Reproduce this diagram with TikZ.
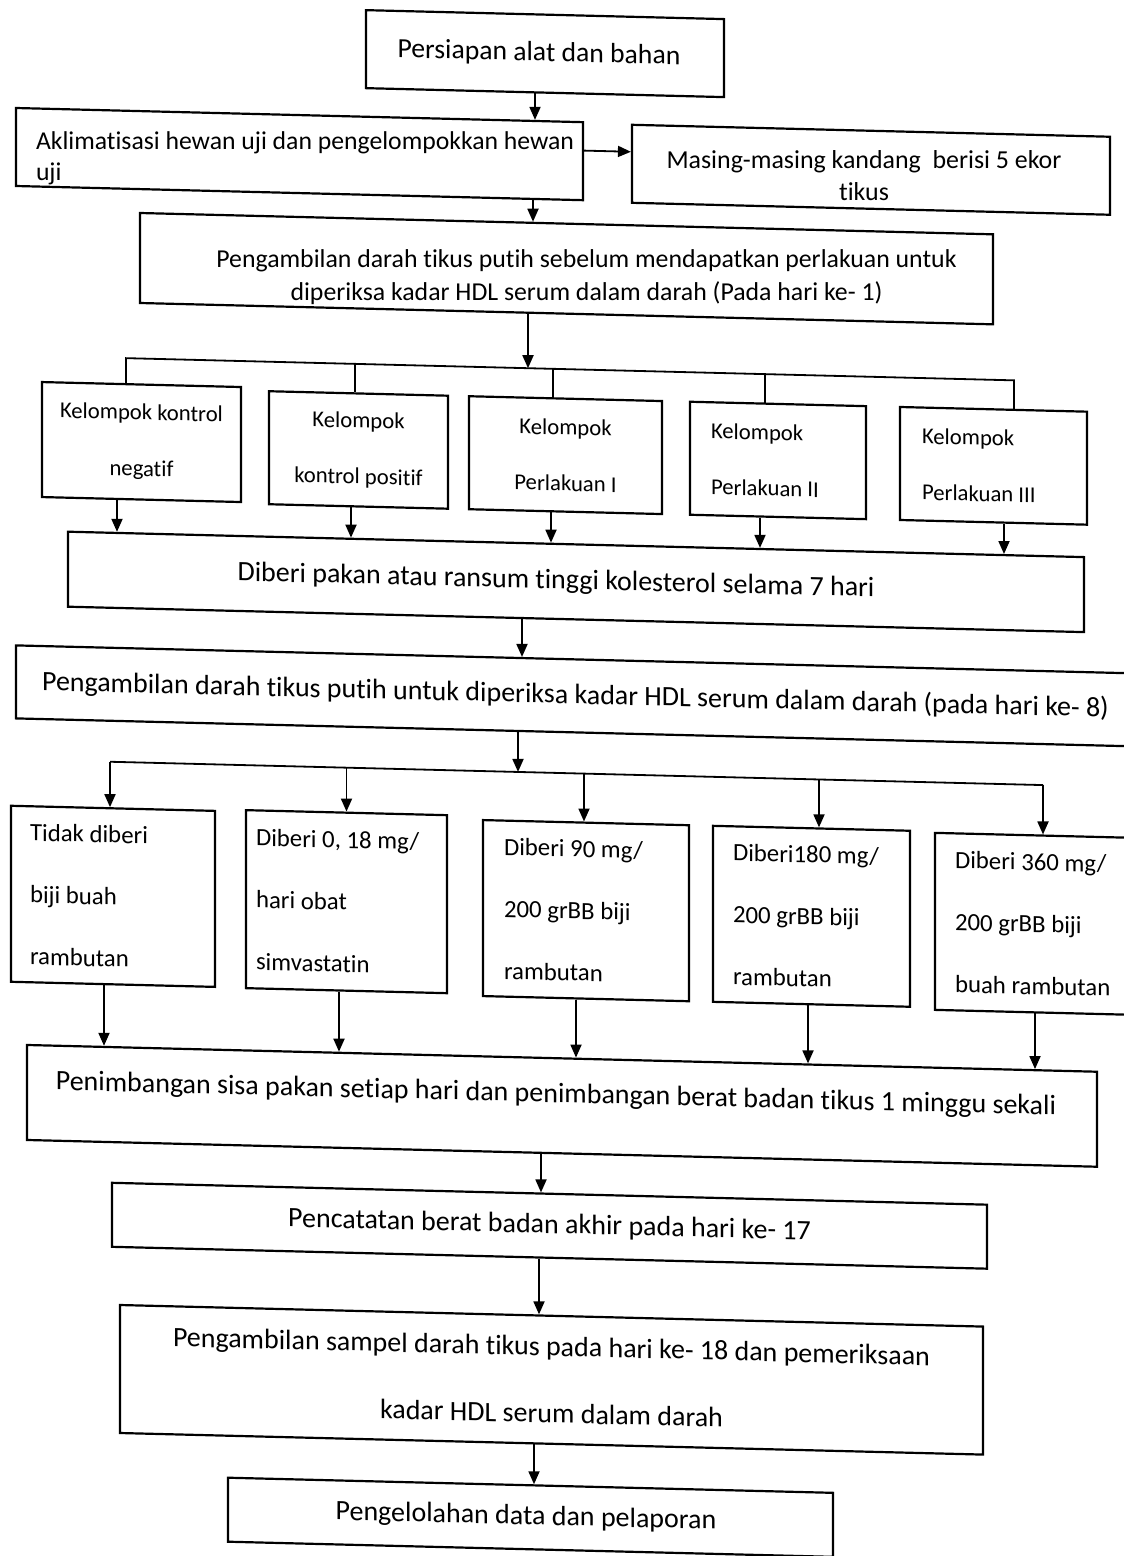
\documentclass[tikz,border=0pt]{standalone}
\usepackage{fontspec}
\setmainfont[Ligatures={TeX,NoCommon,NoContextual},RawFeature={-clig}]{Carlito}
\usetikzlibrary{arrows.meta}
\begin{document}
\begin{tikzpicture}[x=1pt,y=-1pt,
  every node/.style={execute at begin node={\spaceskip=0pt\xspaceskip=0pt\relax}},
  box/.style={draw=black, line width=2.2pt, inner sep=0pt, align=center, rectangle, transform shape},
  txt/.style={inner sep=0pt, align=center},
  ftop/.style={font=\fontsize{27.7}{30}\selectfont},
  fbig/.style={font=\fontsize{28}{30}\selectfont},
  fgrp/.style={font=\fontsize{22.7}{56}\selectfont},
  ftrt/.style={font=\fontsize{24.8}{62}\selectfont},
  ln/.style={line width=1.8pt},
  arr/.style={line width=1.8pt, -{Triangle[length=13pt,width=11pt]}},
]
\useasboundingbox (0,0) rectangle (1124,1556);
\fill[white] (0,0) rectangle (1124,1556);
\begin{scope}[yslant=-0.025]
% top part
\node[box, ftop, minimum width=358pt, minimum height=78pt] (b1) at (545,40) {\hspace*{-12pt}Persiapan alat dan bahan};
\node[box, minimum width=567pt, minimum height=78pt] (b2) at (299.5,146.6) {};
\node[txt, font=\fontsize{25.7}{31.5}\selectfont, align=left, text width=527pt] (t2) at ([yshift=-4pt]b2.center)
  {\mbox{Aklimatisasi hewan uji dan pengelompokkan hewan}\\uji};
\node[box, minimum width=478pt, minimum height=78pt] (b3) at (871,148) {};
\node[txt, font=\fontsize{25.9}{32}\selectfont] (t3) at ([xshift=-7pt,yshift=-6pt]b3.center)
  {Masing-masing kandang\ \ berisi 5 ekor\\tikus};
\node[box, minimum width=853pt, minimum height=90pt] (b4) at (566.5,254.5) {};
\node[txt, font=\fontsize{25.8}{33}\selectfont] (t4) at ([xshift=20pt,yshift=-8pt]b4.center)
  {Pengambilan darah tikus putih sebelum mendapatkan perlakuan untuk\\diperiksa kadar HDL serum dalam darah (Pada hari ke- 1)};
% group boxes
\node[box, fgrp, minimum width=199pt, minimum height=115pt] (b5a) at (141.5,438.5) {Kelompok kontrol\\negatif};
\node[box, fgrp, minimum width=179pt, minimum height=113pt] (b5b) at (358.5,441) {Kelompok\\kontrol positif};
\node[box, fgrp, minimum width=193pt, minimum height=113pt] (b5c) at (565.5,441) {Kelompok\\Perlakuan I};
\node[box, fgrp, align=left, text width=134pt, minimum width=176pt, minimum height=113pt] (b5d) at (778,441) {Kelompok\\Perlakuan II};
\node[box, fgrp, align=left, text width=143pt, minimum width=187pt, minimum height=113pt] (b5e) at (993.5,441) {Kelompok\\Perlakuan III};
\node[box, fbig, minimum width=1016pt, minimum height=75pt] (b6) at (576,567.5)
  {\hspace*{-40pt}Diberi pakan atau ransum tinggi kolesterol selama 7 hari};
\node[box, fbig, minimum width=1119pt, minimum height=73pt] (b7) at (575.5,681.5)
  {Pengambilan darah tikus putih untuk diperiksa kadar HDL serum dalam darah (pada hari ke- 8)};
% treatment boxes
\node[box, ftrt, align=left, text width=166pt, minimum width=204pt, minimum height=176pt] (b8a) at (113,893.5)
  {Tidak diberi\\biji buah\\rambutan};
\node[box, ftrt, align=left, text width=181pt, minimum width=201pt, minimum height=178pt] (b8b) at (346.5,893)
  {Diberi 0, 18 mg/\\hari obat\\simvastatin};
\node[box, ftrt, align=left, text width=164pt, minimum width=206pt, minimum height=176pt] (b8c) at (586,896)
  {Diberi 90 mg/\\200 grBB biji\\rambutan};
\node[box, ftrt, align=left, text width=157pt, minimum width=197pt, minimum height=176pt] (b8d) at (811.5,896)
  {Diberi180 mg/\\200 grBB biji\\rambutan};
\node[box, ftrt, align=left, text width=160pt, minimum width=200pt, minimum height=177pt] (b8e) at (1035,898)
  {Diberi 360 mg/\\200 grBB biji\\buah rambutan};
% bottom part
\node[box, fbig, text depth=26pt, minimum width=1070pt, minimum height=95pt] (b9) at (562,1091.8)
  {\hspace*{-12pt}Penimbangan sisa pakan setiap hari dan penimbangan berat badan tikus 1 minggu sekali};
\node[box, fbig, minimum width=875pt, minimum height=64pt] (b10) at (549.5,1212)
  {Pencatatan berat badan akhir pada hari ke- 17};
\node[box, font=\fontsize{28}{67}\selectfont, minimum width=863pt, minimum height=128pt] (b11) at (551.5,1366)
  {Pengambilan sampel darah tikus pada hari ke- 18 dan pemeriksaan\\kadar HDL serum dalam darah};
\node[box, fbig, minimum width=605pt, minimum height=64pt] (b12) at (530.5,1504)
  {\hspace*{-9pt}Pengelolahan data dan pelaporan};

% connector coordinates
\coordinate (h1a) at (126,355);
\coordinate (h1b) at (355,355);
\coordinate (h1m) at (528,355);
\coordinate (h1c) at (553,355);
\coordinate (h1d) at (765,355);
\coordinate (h1e) at (1014,355);
\coordinate (h2a) at (110,759);
\coordinate (h2b) at (346.5,759);
\coordinate (h2m) at (518,759);
\coordinate (h2c) at (584,759);
\coordinate (h2d) at (819,759);
\coordinate (h2e) at (1043,759);

% connectors
\draw[arr] ([xshift=-10pt]b1.south) -- ([xshift=235.5pt]b2.north);
\draw[arr] ([yshift=10.6pt]b2.east) -- ([yshift=12pt]b3.west);
\draw[arr] ([xshift=233.5pt]b2.south) -- ([xshift=-33.5pt]b4.north);
\draw[arr] ([xshift=-38.5pt]b4.south) -- (h1m);
\draw[ln] ([xshift=-15.5pt]b5a.north) -- (h1a) -- (h1e) -- ([xshift=20.5pt]b5e.north);
\draw[ln] (h1b) -- ([xshift=-3.5pt]b5b.north);
\draw[ln] (h1c) -- ([xshift=-12.5pt]b5c.north);
\draw[ln] (h1d) -- ([xshift=-13pt]b5d.north);

\draw[arr] ([xshift=-24.5pt]b5a.south) -- ([xshift=-459pt]b6.north);
\draw[arr] ([xshift=-7.5pt]b5b.south) -- ([xshift=-225pt]b6.north);
\draw[arr] ([xshift=-14.5pt]b5c.south) -- ([xshift=-25pt]b6.north);
\draw[arr] ([xshift=-18pt]b5d.south) -- ([xshift=184pt]b6.north);
\draw[arr] ([xshift=10.5pt]b5e.south) -- ([xshift=428pt]b6.north);

\draw[arr] ([xshift=-54pt]b6.south) -- ([xshift=-53.5pt]b7.north);
\draw[arr] ([xshift=-57.5pt]b7.south) -- (h2m);
\draw[ln] (h2a) -- (h2e);
\draw[arr] (h2a) -- ([xshift=-3pt]b8a.north);
\draw[arr] (h2b) -- (b8b.north);
\draw[arr] (h2c) -- ([xshift=-2pt]b8c.north);
\draw[arr] (h2d) -- ([xshift=7.5pt]b8d.north);
\draw[arr] (h2e) -- ([xshift=8pt]b8e.north);

\draw[arr] ([xshift=-9pt]b8a.south) -- ([xshift=-458pt]b9.north);
\draw[arr] ([xshift=-7.5pt]b8b.south) -- ([xshift=-223pt]b9.north);
\draw[arr] ([xshift=-10pt]b8c.south) -- ([xshift=14pt]b9.north);
\draw[arr] ([xshift=-3.5pt]b8d.south) -- ([xshift=246pt]b9.north);
\draw[arr] (b8e.south) -- ([xshift=473pt]b9.north);

\draw[arr] ([xshift=-21pt]b9.south) -- ([xshift=-8.5pt]b10.north);
\draw[arr] ([xshift=-10.5pt]b10.south) -- ([xshift=-12.5pt]b11.north);
\draw[arr] ([xshift=-17.5pt]b11.south) -- ([xshift=3.5pt]b12.north);
\end{scope}
\end{tikzpicture}
\end{document}
